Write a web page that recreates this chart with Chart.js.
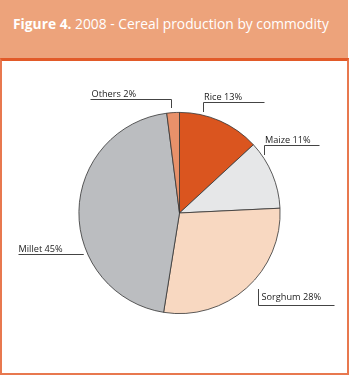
<!DOCTYPE html>
<html>
<head>
<meta charset="utf-8">
<script src="https://cdn.jsdelivr.net/npm/chart.js@4/dist/chart.umd.min.js"></script>
<style>
  body { margin: 0; width: 350px; height: 375px; position: relative; overflow: hidden; background: #fff; font-family: "Open Sans", sans-serif; }
  #header { position: absolute; left: 0; top: 0; width: 348px; height: 58px; background: #eda37b; }
  #title { position: absolute; left: 13px; top: 14px; color: #fff; font-size: 13.8px; white-space: nowrap; }
  #box { position: absolute; left: 0; top: 58px; width: 345px; height: 312px; border: 2px solid #e8784f; border-top: 3px solid #e25a28; }
  #pie { position: absolute; left: 0; top: 0; }
</style>
</head>
<body>
<div id="header"><div id="title"><b>Figure 4.</b> 2008 - Cereal production by commodity</div></div>
<div id="box"></div>
<canvas id="pie" width="350" height="375"></canvas>
<script>
const commodities = ['Rice', 'Maize', 'Sorghum', 'Millet', 'Others'];
const shares = [13, 11, 28, 45, 2];
const sliceColors = ['#da551f', '#e6e7e8', '#f8d8c1', '#bbbdc0', '#e9916a'];

// leader lines: t = position along the arc, o = nudge from rim, dy/dx = segments
const labelLayout = [
  { t: 0.275, ox: 0.5, oy: -2.5, dy: -10.5, dx: 60, tx: 0.5, tb: 3 },
  { t: 0.226, ox: 0.9, oy: -2.2, dy: -10, dx: 54, tx: 0.5, tb: 3 },
  { t: 0.459, ox: 6.2, oy: 6.2, dy: 16, dx: 75, tx: 3, tb: 5.5 },
  { t: 0.354, ox: -4.3, oy: 2, dy: 0, dx: -65.5, tx: 0, tb: 2.5 },
  { t: 0.30, ox: 0.4, oy: -4.6, dy: -9.3, dx: -82, tx: 1, tb: 3 }
];

const leaderLabels = {
  id: 'leaderLabels',
  afterDatasetsDraw(chart) {
    const c = chart.ctx;
    const arcs = chart.getDatasetMeta(0).data;
    c.save();
    c.strokeStyle = '#444';
    c.lineWidth = 1;
    c.fillStyle = '#222';
    c.font = '9.2px "Open Sans", sans-serif';
    c.textBaseline = 'alphabetic';
    arcs.forEach((arc, i) => {
      const L = labelLayout[i];
      const a = arc.startAngle + L.t * (arc.endAngle - arc.startAngle);
      const sx = arc.x + arc.outerRadius * Math.cos(a) + L.ox;
      const sy = arc.y + arc.outerRadius * Math.sin(a) + L.oy;
      const x1 = Math.round(sx) + 0.5;
      const y1 = Math.round(sy + L.dy) + 0.5;
      const x2 = Math.round(x1 + L.dx) + 0.5;
      c.beginPath();
      c.moveTo(x1, Math.round(sy));
      c.lineTo(x1, y1);
      c.lineTo(x2, y1);
      c.stroke();
      const tx = (L.dx > 0 ? x1 : x2) + L.tx;
      c.fillText(commodities[i] + ' ' + shares[i] + '%', tx, y1 - L.tb);
    });
    c.restore();
  }
};

new Chart(document.getElementById('pie'), {
  type: 'pie',
  data: {
    labels: commodities,
    datasets: [{
      data: shares,
      backgroundColor: sliceColors,
      borderColor: '#333',
      borderWidth: 0.8
    }]
  },
  options: {
    responsive: false,
    animation: false,
    layout: { padding: { left: 78.5, right: 69.5, top: 111.5, bottom: 60.5 } },
    plugins: { legend: { display: false }, tooltip: { enabled: false } }
  },
  plugins: [leaderLabels]
});
</script>
</body>
</html>
